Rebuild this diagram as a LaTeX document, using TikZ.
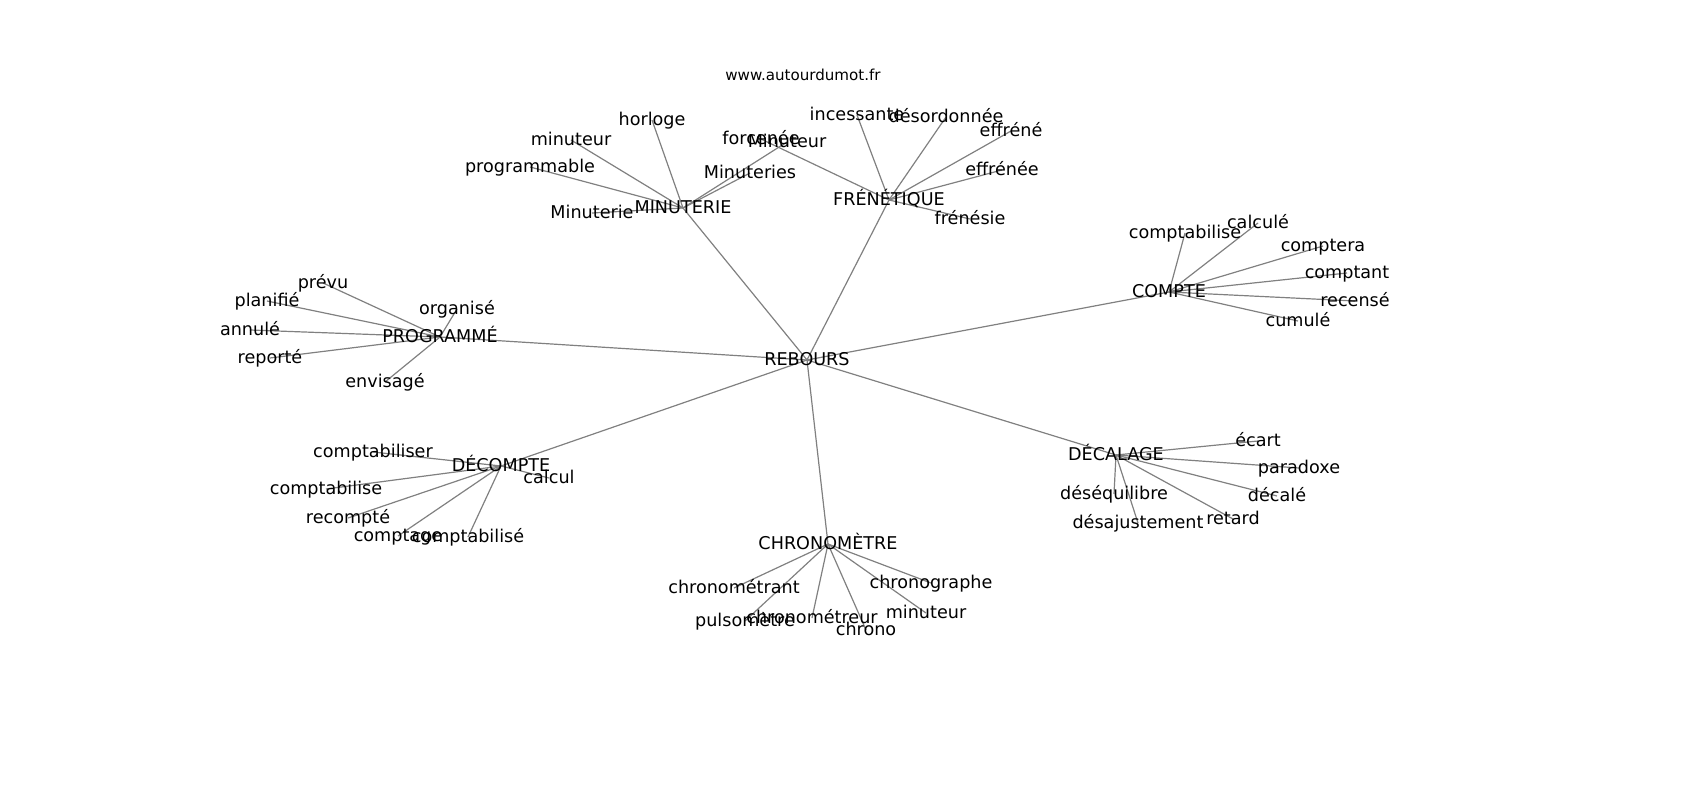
\documentclass[tikz,border=0pt]{standalone}
\usepackage{fontspec}
\setmainfont{DejaVu Sans}
\usetikzlibrary{backgrounds}
\begin{document}
\begin{tikzpicture}[x=1pt,y=-1pt,
  lbl/.style={font=\fontsize{17.6}{20}\selectfont, inner sep=0pt, text height=11.6pt, text depth=0pt, text=black},
  ttl/.style={font=\fontsize{15.1}{18}\selectfont, inner sep=0pt, text height=10pt, text depth=0pt, text=black},
  edge/.style={draw=black!50, line width=1.2pt}]
\useasboundingbox (0,0) rectangle (1700,800);
\node[ttl] (title) at (803,76) {www.autourdumot.fr};
% hubs
\node[lbl] (reb) at (807,360) {REBOURS};
\node[lbl] (minu) at (683,208) {MINUTERIE};
\node[lbl] (fren) at (889,200) {FRÉNÉTIQUE};
\node[lbl] (cpt) at (1169,292) {COMPTE};
\node[lbl] (prog) at (440,337) {PROGRAMMÉ};
\node[lbl] (dcpt) at (501,466) {DÉCOMPTE};
\node[lbl] (dcal) at (1116,455) {DÉCALAGE};
\node[lbl] (chr) at (828,544) {CHRONOMÈTRE};
% MINUTERIE leaves
\node[lbl] (m1) at (652,120) {horloge};
\node[lbl] (m2) at (571,140) {minuteur};
\node[lbl] (m3) at (530,167) {programmable};
\node[lbl] (m4) at (592,213) {Minuterie};
\node[lbl] (m5) at (750,173) {Minuteries};
\node[lbl] (m6) at (787,142) {Minuteur};
% FRÉNÉTIQUE leaves
\node[lbl] (f1) at (857,115) {incessante};
\node[lbl] (f2) at (946,117) {désordonnée};
\node[lbl] (f3) at (1011,131) {effréné};
\node[lbl] (f4) at (1002,170) {effrénée};
\node[lbl] (f5) at (970,219) {frénésie};
\node[lbl] (f6) at (761,139) {forcenée};
% COMPTE leaves
\node[lbl] (c1) at (1185,233) {comptabilise};
\node[lbl] (c2) at (1258,223) {calculé};
\node[lbl] (c3) at (1323,246) {comptera};
\node[lbl] (c4) at (1347,273) {comptant};
\node[lbl] (c5) at (1355,301) {recensé};
\node[lbl] (c6) at (1298,321) {cumulé};
% PROGRAMMÉ leaves
\node[lbl] (p1) at (323,283) {prévu};
\node[lbl] (p2) at (267,301) {planifié};
\node[lbl] (p3) at (250,330) {annulé};
\node[lbl] (p4) at (270,358) {reporté};
\node[lbl] (p5) at (457,309) {organisé};
\node[lbl] (p6) at (385,382) {envisagé};
% DÉCOMPTE leaves
\node[lbl] (d1) at (373,452) {comptabiliser};
\node[lbl] (d2) at (326,489) {comptabilise};
\node[lbl] (d3) at (348,518) {recompté};
\node[lbl] (d4) at (398,536) {comptage};
\node[lbl] (d5) at (468,537) {comptabilisé};
\node[lbl] (d6) at (549,478) {calcul};
% DÉCALAGE leaves
\node[lbl] (g1) at (1258,441) {écart};
\node[lbl] (g2) at (1299,468) {paradoxe};
\node[lbl] (g3) at (1277,496) {décalé};
\node[lbl] (g4) at (1233,519) {retard};
\node[lbl] (g5) at (1138,523) {désajustement};
\node[lbl] (g6) at (1114,494) {déséquilibre};
% CHRONOMÈTRE leaves
\node[lbl] (h1) at (734,588) {chronométrant};
\node[lbl] (h2) at (745,621) {pulsomètre};
\node[lbl] (h3) at (812,618) {chronométreur};
\node[lbl] (h4) at (866,630) {chrono};
\node[lbl] (h5) at (931,583) {chronographe};
\node[lbl] (h6) at (926,613) {minuteur};
\begin{scope}[on background layer]
\foreach \h in {minu,fren,cpt,prog,dcpt,dcal,chr}
  \draw[edge] (reb.center) -- (\h.center);
\foreach \l in {m1,m2,m3,m4,m5,m6} \draw[edge] (minu.center) -- (\l.center);
\foreach \l in {f1,f2,f3,f4,f5,f6} \draw[edge] (fren.center) -- (\l.center);
\foreach \l in {c1,c2,c3,c4,c5,c6} \draw[edge] (cpt.center) -- (\l.center);
\foreach \l in {p1,p2,p3,p4,p5,p6} \draw[edge] (prog.center) -- (\l.center);
\foreach \l in {d1,d2,d3,d4,d5,d6} \draw[edge] (dcpt.center) -- (\l.center);
\foreach \l in {g1,g2,g3,g4,g5,g6} \draw[edge] (dcal.center) -- (\l.center);
\foreach \l in {h1,h2,h3,h4,h5,h6} \draw[edge] (chr.center) -- (\l.center);
\end{scope}
\end{tikzpicture}
\end{document}
